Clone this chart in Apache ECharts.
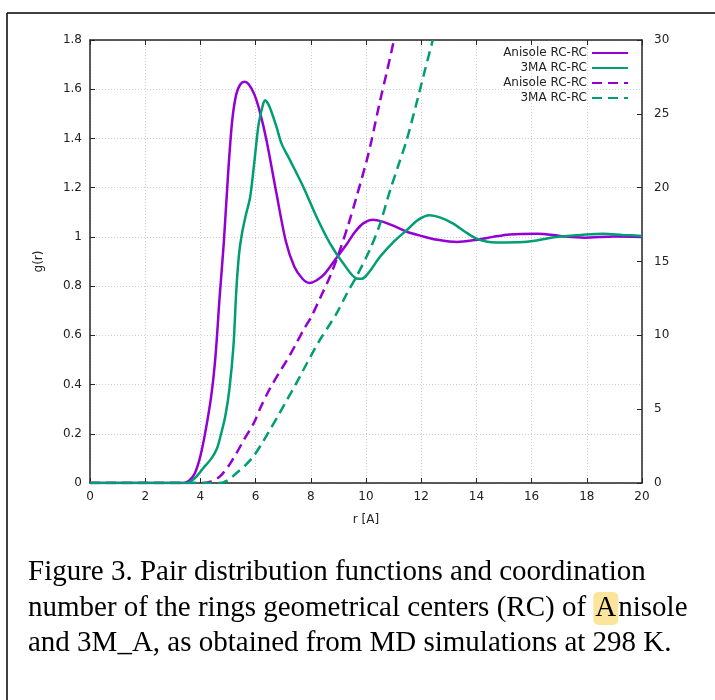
<!DOCTYPE html>
<html>
<head>
<meta charset="utf-8">
<style>
  html, body { margin: 0; padding: 0; background: #fff; }
  #chart { width: 715px; height: 700px; }
</style>
<script src="https://cdn.jsdelivr.net/npm/echarts@6/dist/echarts.min.js"></script>
</head>
<body>
<div id="chart"></div>
<script>
// g(r) anisole (solid purple)
const anisoleGr_r = [0, 3.4, 3.6, 3.8, 4.0, 4.2, 4.4, 4.55, 4.7, 4.85, 5.0, 5.15, 5.3, 5.45, 5.6, 5.75, 5.95, 6.15, 6.4, 6.75, 7.1, 7.4, 7.7, 7.95, 8.2, 8.5, 8.9, 9.3, 9.6, 9.9, 10.25, 10.6, 11.1, 11.5, 12.0, 12.6, 13.3, 14.0, 14.6, 15.2, 16.2, 17.1, 17.9, 19.0, 20]
const anisoleGr_g = [0, 0, 0.01, 0.04, 0.11, 0.22, 0.36, 0.52, 0.76, 0.98, 1.25, 1.47, 1.58, 1.62, 1.63, 1.62, 1.58, 1.51, 1.39, 1.18, 0.98, 0.88, 0.83, 0.813, 0.823, 0.85, 0.91, 0.97, 1.02, 1.055, 1.07, 1.062, 1.04, 1.02, 1.004, 0.988, 0.979, 0.988, 1.0, 1.01, 1.013, 1.003, 0.997, 1.002, 1.0]

// g(r) 3MA (solid green)
const mmaGr_r = [0, 3.5, 3.8, 4.1, 4.4, 4.6, 4.75, 4.9, 5.05, 5.2, 5.3, 5.4, 5.5, 5.65, 5.8, 5.95, 6.1, 6.25, 6.34, 6.5, 6.76, 6.94, 7.25, 7.73, 8.21, 8.7, 9.18, 9.66, 9.85, 10.1, 10.5, 11.0, 11.47, 11.9, 12.3, 12.7, 13.16, 13.6, 14.0, 14.4, 14.73, 15.7, 16.9, 17.8, 18.6, 19.3, 20]
const mmaGr_g = [0, 0, 0.02, 0.06, 0.1, 0.14, 0.2, 0.27, 0.38, 0.56, 0.78, 0.93, 1.01, 1.09, 1.16, 1.3, 1.45, 1.53, 1.555, 1.53, 1.446, 1.379, 1.311, 1.203, 1.081, 0.973, 0.892, 0.831, 0.83, 0.855, 0.918, 0.98, 1.027, 1.07, 1.088, 1.078, 1.054, 1.02, 0.993, 0.98, 0.977, 0.979, 1.0, 1.008, 1.013, 1.008, 1.004]

// coordination number, right axis (dashed)
const anisoleN_r = [0, 4.1, 4.4, 4.7, 5.0, 5.3, 5.6, 5.92, 6.2, 6.52, 6.83, 7.13, 7.43, 7.73, 8.03, 8.33, 8.7, 9.06, 9.36, 9.66, 10.02, 10.2, 10.5, 10.75, 10.99]
const anisoleN_n = [0, 0, 0.1, 0.43, 1.1, 2.0, 3.0, 4.0, 5.2, 6.4, 7.4, 8.3, 9.3, 10.35, 11.3, 12.5, 14.0, 15.8, 17.5, 19.4, 21.8, 23.2, 25.8, 27.8, 29.8]
const mmaN_r = [0, 4.7, 5.0, 5.3, 5.6, 5.92, 6.22, 6.52, 6.83, 7.13, 7.43, 7.73, 8.03, 8.33, 8.64, 8.94, 9.3, 9.66, 10.14, 10.5, 10.87, 11.17, 11.47, 11.8, 12.1, 12.42]
const mmaN_n = [0, 0, 0.2, 0.66, 1.15, 1.8, 2.65, 3.6, 4.6, 5.6, 6.6, 7.65, 8.7, 9.7, 10.6, 11.5, 12.8, 14.0, 15.8, 17.5, 19.8, 21.5, 23.2, 25.5, 27.7, 30]

const legendLabels = ['Anisole RC-RC', '3MA RC-RC', 'Anisole RC-RC', '3MA RC-RC']
const seriesNames = ['anisole_g', 'mma_g', 'anisole_n', 'mma_n']

const PURPLE = '#9400d3'
const GREEN = '#009e73'
const AXIS = '#262626'
const FONT = 'DejaVu Sans'
const SERIF = '"Liberation Serif"'

const pairs = (xs, ys) => xs.map((x, i) => [x, ys[i]])

const gridLine = { show: true, lineStyle: { color: '#cfcfcf', width: 1, type: [1, 2] } }

const chart = echarts.init(document.getElementById('chart'))
const option = {
    backgroundColor: '#fff',
    animation: false,
    textStyle: { fontFamily: FONT },
    grid: { left: 90, top: 40, width: 552, height: 443 },
    legend: {
        orient: 'vertical',
        align: 'right',
        right: 81,
        top: 42,
        itemWidth: 36,
        itemHeight: 14,
        itemGap: 3,
        itemStyle: { opacity: 0 },
        data: seriesNames,
        formatter: name => legendLabels[seriesNames.indexOf(name)],
        textStyle: { fontFamily: FONT, fontSize: 12, color: '#222' }
    },
    xAxis: [
        {
            type: 'value', min: 0, max: 20, interval: 2,
            name: 'r [A]', nameLocation: 'middle', nameGap: 31,
            nameTextStyle: { fontFamily: FONT, fontSize: 12, color: '#222' },
            axisLine: { show: true, onZero: false, lineStyle: { color: AXIS, width: 1.5 } },
            axisTick: { inside: true, length: 5, lineStyle: { color: AXIS, width: 1 } },
            axisLabel: { fontFamily: FONT, fontSize: 12, color: '#222', margin: 8 },
            splitLine: gridLine
        },
        {
            type: 'value', min: 0, max: 20, interval: 2, position: 'top',
            axisLine: { show: true, onZero: false, lineStyle: { color: AXIS, width: 1.5 } },
            axisTick: { inside: true, length: 5, lineStyle: { color: AXIS, width: 1 } },
            axisLabel: { show: false },
            splitLine: { show: false }
        }
    ],
    yAxis: [
        {
            type: 'value', min: 0, max: 1.8, interval: 0.2,
            name: 'g(r)', nameLocation: 'middle', nameGap: 45,
            nameTextStyle: { fontFamily: FONT, fontSize: 12, color: '#222' },
            axisLine: { show: true, onZero: false, lineStyle: { color: AXIS, width: 1.5 } },
            axisTick: { inside: true, length: 5, lineStyle: { color: AXIS, width: 1 } },
            axisLabel: { fontFamily: FONT, fontSize: 12, color: '#222', margin: 8 },
            splitLine: gridLine
        },
        {
            type: 'value', min: 0, max: 30, interval: 5, position: 'right',
            axisLine: { show: true, onZero: false, lineStyle: { color: AXIS, width: 1.5 } },
            axisTick: { inside: true, length: 5, lineStyle: { color: AXIS, width: 1 } },
            axisLabel: { fontFamily: FONT, fontSize: 12, color: '#222', margin: 12 },
            splitLine: { show: false }
        }
    ],
    series: [
        {
            name: 'anisole_g', type: 'line', yAxisIndex: 0, symbol: 'none', smooth: 0.3,
            data: pairs(anisoleGr_r, anisoleGr_g),
            lineStyle: { color: PURPLE, width: 2.5 }, itemStyle: { color: PURPLE }
        },
        {
            name: 'mma_g', type: 'line', yAxisIndex: 0, symbol: 'none', smooth: 0.3,
            data: pairs(mmaGr_r, mmaGr_g),
            lineStyle: { color: GREEN, width: 2.5 }, itemStyle: { color: GREEN }
        },
        {
            name: 'anisole_n', type: 'line', yAxisIndex: 1, symbol: 'none', smooth: 0.3,
            data: pairs(anisoleN_r, anisoleN_n),
            lineStyle: { color: PURPLE, width: 2.5, type: [10, 6] }, itemStyle: { color: PURPLE }
        },
        {
            name: 'mma_n', type: 'line', yAxisIndex: 1, symbol: 'none', smooth: 0.3,
            data: pairs(mmaN_r, mmaN_n),
            lineStyle: { color: GREEN, width: 2.5, type: [10, 6] }, itemStyle: { color: GREEN }
        }
    ],
    graphic: [
        // figure frame
        { type: 'line', shape: { x1: 7, y1: 13, x2: 715, y2: 13 }, style: { stroke: '#000', lineWidth: 1.5 } },
        { type: 'line', shape: { x1: 7, y1: 13, x2: 7, y2: 700 }, style: { stroke: '#000', lineWidth: 1.5 } },
        // caption
        {
            type: 'text', left: 28, top: 558,
            style: {
                text: 'Figure 3. Pair distribution functions and coordination',
                font: '29px ' + SERIF, fill: '#000'
            }
        },
        {
            type: 'text', left: 28, top: 592,
            style: {
                text: 'number of the rings geometrical centers (RC) of {hl|A}nisole',
                font: '29px ' + SERIF, fill: '#000',
                rich: { hl: { font: '29px ' + SERIF, backgroundColor: '#fbe59a', borderRadius: 5, padding: [2, 2, 2, 2] } }
            }
        },
        {
            type: 'text', left: 28, top: 629,
            style: {
                text: 'and 3M_A, as obtained from MD simulations at 298 K.',
                font: '29px ' + SERIF, fill: '#000'
            }
        }
    ]
}

chart.setOption(option)
</script>
</body>
</html>
